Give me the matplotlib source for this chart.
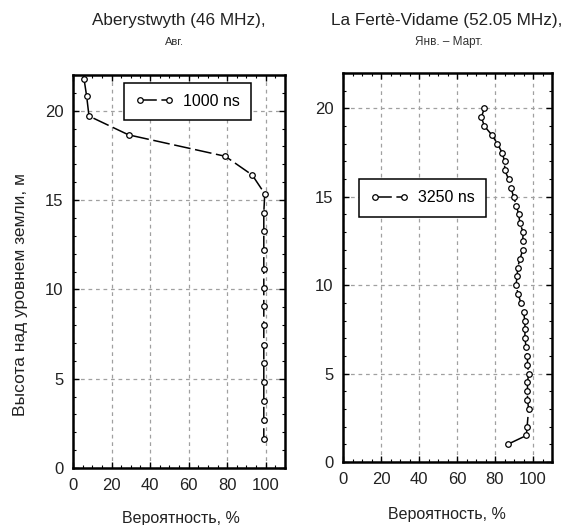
import matplotlib
matplotlib.use("Agg")
import matplotlib.pyplot as plt
from matplotlib.ticker import MultipleLocator

plt.rcParams['font.family'] = ['Liberation Sans', 'DejaVu Sans']

# Aberystwyth, 1000 ns
ab_prob = [5.7, 7.1, 8.3, 28.8, 79.0, 93.0, 99.5,
           99, 99, 99, 99, 99, 99, 99, 99, 99, 99, 99, 99, 99]
ab_height = [21.8, 20.8, 19.7, 18.65, 17.45, 16.4, 15.35,
             14.3, 13.25, 12.2, 11.15, 10.05, 9.05, 8.0, 6.9, 5.85, 4.8, 3.75, 2.7, 1.65]

# La Ferte-Vidame, 3250 ns
lf_height = [20.0, 19.5, 19.0, 18.5, 18.0, 17.5, 17.0, 16.5, 16.0, 15.5, 15.0,
             14.5, 14.0, 13.5, 13.0, 12.5, 12.0, 11.5, 11.0, 10.5, 10.0,
             9.5, 9.0, 8.5, 8.0, 7.5, 7.0, 6.5, 6.0, 5.5, 5.0,
             4.5, 4.0, 3.5, 3.0, 2.0, 1.5, 1.0]
lf_prob = [74.4, 72.8, 74.4, 78.3, 81.3, 83.7, 85.1, 85.1, 87.2, 88.4, 89.8,
           91.2, 92.5, 93.1, 94.8, 94.6, 94.6, 93.2, 91.9, 91.7, 91.0,
           92.2, 93.6, 95.0, 95.7, 95.8, 95.7, 96.4, 97.1, 97.1, 97.7,
           97.1, 97.1, 97.1, 97.7, 96.9, 96.5, 86.7]

x_ticks = [0, 20, 40, 60, 80, 100]
y_ticks = [0, 5, 10, 15, 20]

W, H = 565, 525
fig = plt.figure(figsize=(W / 100, H / 100), dpi=100)

def px_axes(x0, y0, x1, y1):
    return fig.add_axes([x0 / W, 1 - y1 / H, (x1 - x0) / W, (y1 - y0) / H])

ax1 = px_axes(73, 75, 285, 468)
ax2 = px_axes(343, 73, 552, 462)

line_kw = dict(color='black', linewidth=1.1, dashes=(11, 3),
               marker='o', markersize=4, markerfacecolor='white',
               markeredgecolor='black', markeredgewidth=0.9)

ax1.plot(ab_prob, ab_height, label='1000 ns', **line_kw)
ax2.plot(lf_prob, lf_height, label='3250 ns', **line_kw)

for ax in (ax1, ax2):
    ax.set_xlim(0, 110)
    ax.set_ylim(0, 22)
    ax.set_xticks(x_ticks)
    ax.set_yticks(y_ticks)
    ax.xaxis.set_minor_locator(MultipleLocator(5))
    ax.yaxis.set_minor_locator(MultipleLocator(1))
    ax.tick_params(which='both', direction='in', top=True, right=True,
                   labelsize=12, colors='black')
    ax.tick_params(which='major', length=4, width=1, pad=7)
    ax.tick_params(which='minor', length=2.5, width=0.8)
    ax.tick_params(axis='x', labelcolor='#222222')
    ax.tick_params(axis='y', labelcolor='#222222')
    ax.grid(True, which='major', color='#a0a0a0', linestyle=(0, (3, 3)), linewidth=0.9)
    for s in ax.spines.values():
        s.set_linewidth(1.8)
        s.set_color('black')

fig.text(181 / W, 1 - 519 / H, 'Вероятность, %', ha='center', va='center',
         fontsize=11.5, color='#222222')
fig.text(447 / W, 1 - 515 / H, 'Вероятность, %', ha='center', va='center',
         fontsize=11.5, color='#222222')
fig.text(21 / W, 1 - 294 / H, 'Высота над уровнем земли, м', ha='center', va='center',
         rotation=90, fontsize=12.5, color='#222222')

leg_kw = dict(loc='upper left', fancybox=False, edgecolor='black', framealpha=1,
              fontsize=11.5, numpoints=2, handlelength=2.4, borderpad=0.7,
              handletextpad=0.6, borderaxespad=0)
l1 = ax1.legend(bbox_to_anchor=(0.24, 0.98), **leg_kw)
l2 = ax2.legend(bbox_to_anchor=(0.077, 0.727), **leg_kw)
for l in (l1, l2):
    l.get_frame().set_linewidth(1.1)

fig.text(179 / W, 1 - 21 / H, 'Aberystwyth (46 MHz),', ha='center', va='center',
         fontsize=12.3, color='#222222')
fig.text(174 / W, 1 - 42 / H, 'Авг.', ha='center', va='center', fontsize=8, color='#333333')
fig.text(447 / W, 1 - 20 / H, 'La Fertè-Vidame (52.05 MHz),', ha='center', va='center',
         fontsize=12.3, color='#222222')
fig.text(449 / W, 1 - 42 / H, 'Янв. – Март.', ha='center', va='center', fontsize=8.5,
         color='#333333')

fig.savefig('out.png', dpi=100)
